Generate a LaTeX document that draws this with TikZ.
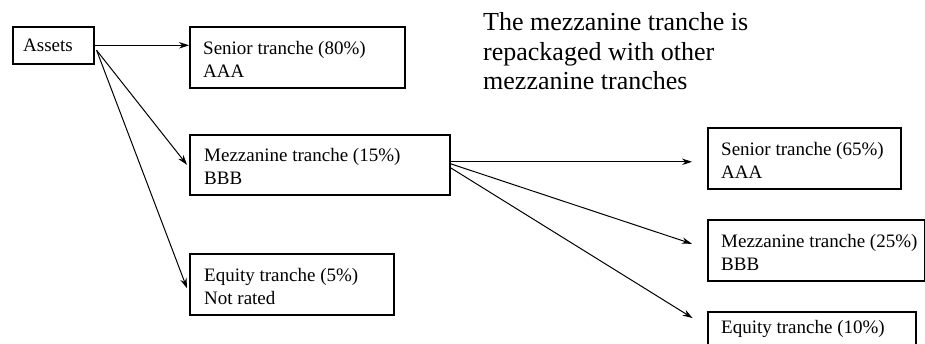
\documentclass[tikz,border=0pt]{standalone}
\usepackage{fontspec}
\setmainfont{Liberation Serif}
\usetikzlibrary{arrows.meta,calc}
\tikzset{
  box/.style={draw, line width=1.6pt, rectangle, anchor=north west, inner sep=0pt},
  txt/.style={anchor=west, align=left, inner sep=0pt, font=\fontsize{19}{23}\selectfont},
  arr/.style={line width=1pt, -{Stealth[length=10pt,width=6.5pt]}},
  heading/.style={anchor=base west, align=left, inner sep=0pt, font=\fontsize{26}{29.5}\selectfont}
}
\begin{document}
\begin{tikzpicture}[x=1pt,y=1pt]
\useasboundingbox (0,0) rectangle (925,343);
% left column
\node[box, minimum width=81pt, minimum height=37pt] (assets) at (12,317) {};
\node[txt] (assetst) at ([xshift=11pt]assets.west) {Assets};
\node[box, minimum width=215pt, minimum height=61pt] (s80) at (189,317) {};
\node[txt] (s80t) at ([xshift=14pt,yshift=-2pt]s80.west) {Senior tranche (80\%)\\AAA};
\node[box, minimum width=260pt, minimum height=60pt] (m15) at (189,209) {};
\node[txt] (m15t) at ([xshift=15pt,yshift=-2pt]m15.west) {Mezzanine tranche (15\%)\\BBB};
\node[box, minimum width=204pt, minimum height=61pt] (e5) at (189,90) {};
\node[txt] (e5t) at ([xshift=15pt,yshift=-2pt]e5.west) {Equity tranche (5\%)\\Not rated};
% right column
\node[box, minimum width=193pt, minimum height=61pt] (s65) at (707,216) {};
\node[txt] (s65t) at ([xshift=14pt,yshift=-2pt]s65.west) {Senior tranche (65\%)\\AAA};
\node[box, minimum width=217pt, minimum height=61pt] (m25) at (707,124) {};
\node[txt] (m25t) at ([xshift=14pt,yshift=-2pt]m25.west) {Mezzanine tranche (25\%)\\BBB};
\node[box, minimum width=208pt, minimum height=61pt] (e10) at (707,32) {};
\node[txt, anchor=base west] (e10t) at ([xshift=14pt,yshift=-22pt]e10.north west) {Equity tranche (10\%)};
% heading
\node[heading] (head) at (483,253) {The mezzanine tranche is\\repackaged with other\\mezzanine tranches};
% connectors
\coordinate (af) at ([xshift=2pt,yshift=-5pt]assets.east);
\draw[arr] (assets.east) -- (assets.east -| s80.west);
\draw[arr] (af) -- ([xshift=-2pt]m15.west);
\draw[arr] (af) -- ([xshift=-2pt,yshift=-4pt]e5.west);
\draw[arr, shorten >=15pt] ([yshift=3pt]m15.east) -- ([yshift=3pt]m15.east -| s65.west);
\draw[arr, shorten >=16pt] ([yshift=1pt]m15.east) -- ([yshift=1.5pt]m25.west);
\draw[arr, shorten >=17pt] ([yshift=-3pt]m15.east) -- ([yshift=-16pt]e10.north west);
\end{tikzpicture}
\end{document}
